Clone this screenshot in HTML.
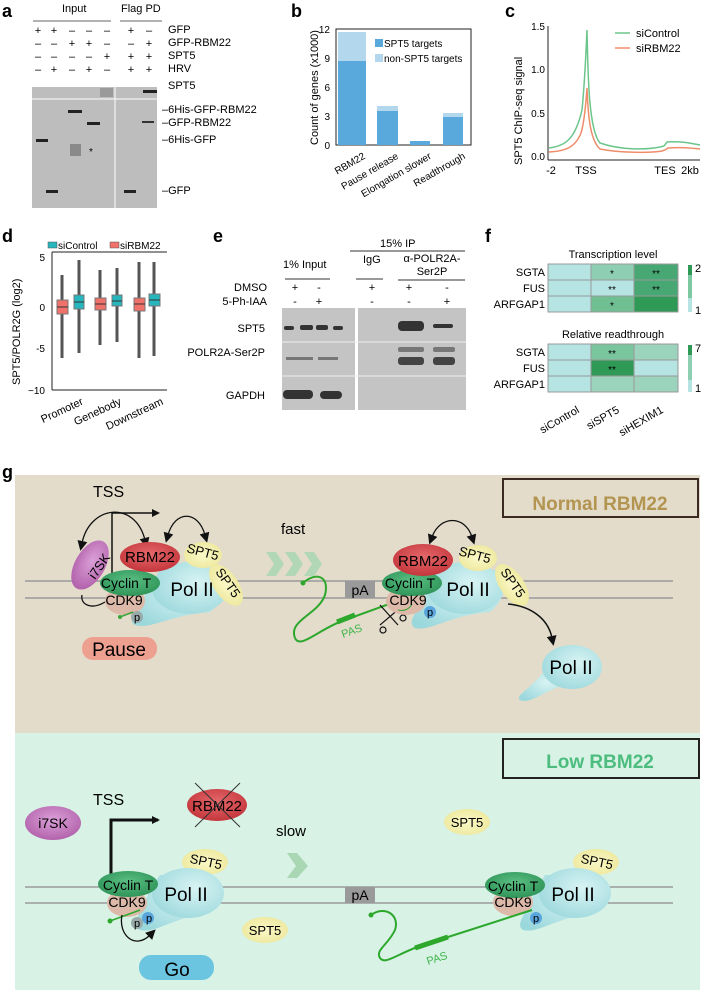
<!DOCTYPE html>
<html><head><meta charset="utf-8"><style>
html,body{margin:0;padding:0;background:#fff}
svg{display:block;font-family:"Liberation Sans",Arial,sans-serif}
</style></head><body>
<svg width="708" height="990" viewBox="0 0 708 990" xmlns="http://www.w3.org/2000/svg">
<defs>
<radialGradient id="pol" cx="0.6" cy="0.4" r="0.7"><stop offset="0" stop-color="#d8f3f3"/><stop offset="1" stop-color="#9bd8dc"/></radialGradient>
<radialGradient id="red" cx="0.5" cy="0.4" r="0.6"><stop offset="0" stop-color="#e4686a"/><stop offset="1" stop-color="#c4363c"/></radialGradient>
<radialGradient id="yel" cx="0.5" cy="0.5" r="0.6"><stop offset="0" stop-color="#fbf8c8"/><stop offset="1" stop-color="#ece79a"/></radialGradient>
<radialGradient id="grn" cx="0.5" cy="0.4" r="0.6"><stop offset="0" stop-color="#5cbf84"/><stop offset="1" stop-color="#2e9458"/></radialGradient>
<radialGradient id="pur" cx="0.5" cy="0.4" r="0.6"><stop offset="0" stop-color="#dba0d8"/><stop offset="1" stop-color="#b262ab"/></radialGradient>
<marker id="ah" markerWidth="8" markerHeight="8" refX="6" refY="4" orient="auto" markerUnits="userSpaceOnUse"><path d="M0,0 L8,4 L0,8 z" fill="#111"/></marker>
<marker id="ahs" markerWidth="10" markerHeight="10" refX="2" refY="5" orient="auto-start-reverse" markerUnits="userSpaceOnUse"><path d="M0,0 L10,5 L0,10 z" fill="#111"/></marker>
</defs>

<g font-weight="bold" font-size="18">
<text x="2" y="17">a</text><text x="291" y="17">b</text><text x="505" y="17">c</text>
<text x="2" y="242">d</text><text x="213" y="242">e</text><text x="485" y="242">f</text>
<text x="2" y="478">g</text>
</g>

<!-- Panel a -->
<g font-size="11">
<text x="62" y="12">Input</text><text x="121" y="12">Flag PD</text>
<line x1="33" y1="21" x2="111" y2="21" stroke="#999" stroke-width="1.5"/>
<line x1="120" y1="21" x2="162" y2="21" stroke="#999" stroke-width="1.5"/>
<g text-anchor="middle" font-size="11">
<text x="38" y="34">+</text><text x="54" y="34">+</text><text x="72" y="34">–</text><text x="89" y="34">–</text><text x="107" y="34">–</text><text x="131" y="34">+</text><text x="149" y="34">–</text>
<text x="38" y="47">–</text><text x="54" y="47">–</text><text x="72" y="47">+</text><text x="89" y="47">+</text><text x="107" y="47">–</text><text x="131" y="47">–</text><text x="149" y="47">+</text>
<text x="38" y="60">–</text><text x="54" y="60">–</text><text x="72" y="60">–</text><text x="89" y="60">–</text><text x="107" y="60">+</text><text x="131" y="60">+</text><text x="149" y="60">+</text>
<text x="38" y="73">–</text><text x="54" y="73">+</text><text x="72" y="73">–</text><text x="89" y="73">+</text><text x="107" y="73">–</text><text x="131" y="73">+</text><text x="149" y="73">+</text>
</g>
<text x="168" y="33">GFP</text><text x="168" y="46">GFP-RBM22</text><text x="168" y="59">SPT5</text><text x="168" y="72">HRV</text>
<rect x="32" y="87" width="125" height="121" fill="#bdbdbd"/>
<line x1="32" y1="99" x2="157" y2="99" stroke="#fff" stroke-width="1"/>
<line x1="115" y1="87" x2="115" y2="208" stroke="#fff" stroke-width="1"/>
<rect x="100" y="88" width="13" height="9" fill="#9a9a9a"/>
<rect x="143" y="90" width="14" height="3" fill="#222"/>
<rect x="68" y="110" width="14" height="3" fill="#222"/>
<rect x="87" y="122" width="13" height="3" fill="#222"/>
<rect x="36" y="139" width="12" height="3" fill="#222"/>
<rect x="70" y="144" width="11" height="12" fill="#8a8a8a"/>
<text x="89" y="155" font-size="10">*</text>
<rect x="46" y="190" width="12" height="3" fill="#222"/>
<rect x="124" y="190" width="12" height="3" fill="#222"/>
<rect x="142" y="121" width="12" height="2" fill="#333"/>
<text x="168" y="89">SPT5</text>
<text x="162" y="113">–6His-GFP-RBM22</text><text x="162" y="126">–GFP-RBM22</text><text x="162" y="143">–6His-GFP</text><text x="162" y="194">–GFP</text>
</g>

<!-- Panel b -->
<g font-size="10">
<text transform="translate(318,145) rotate(-90)" font-size="11">Count of genes (x1000)</text>
<g text-anchor="end"><text x="330" y="33">12</text><text x="330" y="62">9</text><text x="330" y="91">6</text><text x="330" y="120">3</text><text x="330" y="149">0</text></g>
<rect x="336" y="29" width="135" height="116" fill="none" stroke="#222" stroke-width="1"/>
<rect x="338" y="32" width="28" height="113" fill="#b3d8ee"/><rect x="338" y="61" width="28" height="84" fill="#5aa9dc"/>
<rect x="377" y="106" width="21" height="39" fill="#b3d8ee"/><rect x="377" y="111" width="21" height="34" fill="#5aa9dc"/>
<rect x="410" y="141" width="20" height="4" fill="#5aa9dc"/>
<rect x="443" y="113" width="20" height="32" fill="#b3d8ee"/><rect x="443" y="117" width="20" height="28" fill="#5aa9dc"/>
<rect x="375" y="39" width="8" height="8" fill="#5aa9dc"/><text x="384" y="47">SPT5 targets</text>
<rect x="375" y="54" width="8" height="8" fill="#b3d8ee"/><text x="384" y="62">non-SPT5 targets</text>
<text transform="translate(366,158) rotate(-30)" text-anchor="end">RBM22</text>
<text transform="translate(399,158) rotate(-30)" text-anchor="end">Pause release</text>
<text transform="translate(432,158) rotate(-30)" text-anchor="end">Elongation slower</text>
<text transform="translate(466,158) rotate(-30)" text-anchor="end">Readthrough</text>
</g>

<!-- Panel c -->
<g font-size="11">
<text transform="translate(522,165) rotate(-90)">SPT5 ChIP-seq signal</text>
<g text-anchor="end" font-size="10"><text x="545" y="30">1.5</text><text x="545" y="73">1.0</text><text x="545" y="117">0.5</text><text x="545" y="160">0.0</text></g>
<line x1="548" y1="26" x2="548" y2="160" stroke="#222"/><line x1="548" y1="160" x2="700" y2="160" stroke="#222"/>
<g text-anchor="middle"><text x="551" y="174">-2</text><text x="586" y="174">TSS</text><text x="665" y="174">TES</text><text x="690" y="174">2kb</text></g>
<path d="M549,148 C565,146 575,140 582,110 C585,80 586,50 587,30 C588,80 589,130 600,143 C620,150 645,150 660,147 L664,146 L667,142 C680,141 690,143 700,145" fill="none" stroke="#6cc58b" stroke-width="1.5"/>
<path d="M549,152 C565,151 575,148 581,133 C585,120 586,100 587,88 C588,115 590,140 600,149 C620,153 650,153 662,151 L665,150 L668,148 C680,147 690,148 700,149" fill="none" stroke="#ef8d6a" stroke-width="1.5"/>
<line x1="615" y1="33" x2="630" y2="33" stroke="#6cc58b" stroke-width="1.5"/><text x="636" y="37">siControl</text>
<line x1="615" y1="48" x2="630" y2="48" stroke="#ef8d6a" stroke-width="1.5"/><text x="636" y="52">siRBM22</text>
</g>

<!-- Panel d -->
<g font-size="10">
<rect x="48" y="242" width="9" height="6" fill="#27b6bd" stroke="#555" stroke-width=".5"/><text x="58" y="249">siControl</text>
<rect x="110" y="242" width="9" height="6" fill="#f0716a" stroke="#555" stroke-width=".5"/><text x="120" y="249">siRBM22</text>
<text transform="translate(20,385) rotate(-90)" font-size="11">SPT5/POLR2G (log2)</text>
<g text-anchor="end"><text x="45" y="261">5</text><text x="45" y="311">0</text><text x="45" y="352">-5</text><text x="45" y="394">−10</text></g>
<line x1="52" y1="252" x2="52" y2="390" stroke="#222"/><line x1="52" y1="252" x2="167" y2="252" stroke="#222"/><line x1="52" y1="390" x2="167" y2="390" stroke="#222"/>
<g stroke="#555" stroke-width="3">
<line x1="62" y1="275" x2="62" y2="358"/><line x1="79" y1="260" x2="79" y2="353"/>
<line x1="100" y1="270" x2="100" y2="345"/><line x1="117" y1="268" x2="117" y2="342"/>
<line x1="139" y1="262" x2="139" y2="358"/><line x1="154" y1="262" x2="154" y2="356"/>
</g>
<rect x="57" y="300" width="11" height="14" fill="#f0716a" stroke="#777"/><line x1="57" y1="307" x2="68" y2="307" stroke="#333"/>
<rect x="74" y="295" width="10" height="14" fill="#27b6bd" stroke="#777"/><line x1="74" y1="302" x2="84" y2="302" stroke="#333"/>
<rect x="95" y="298" width="11" height="12" fill="#f0716a" stroke="#777"/><line x1="95" y1="304" x2="106" y2="304" stroke="#333"/>
<rect x="112" y="295" width="10" height="11" fill="#27b6bd" stroke="#777"/><line x1="112" y1="301" x2="122" y2="301" stroke="#333"/>
<rect x="134" y="298" width="11" height="13" fill="#f0716a" stroke="#777"/><line x1="134" y1="304" x2="145" y2="304" stroke="#333"/>
<rect x="149" y="294" width="11" height="12" fill="#27b6bd" stroke="#777"/><line x1="149" y1="300" x2="160" y2="300" stroke="#333"/>
<text transform="translate(84,404) rotate(-25)" text-anchor="end" font-size="11">Promoter</text>
<text transform="translate(122,404) rotate(-25)" text-anchor="end" font-size="11">Genebody</text>
<text transform="translate(164,404) rotate(-25)" text-anchor="end" font-size="11">Downstream</text>
</g>

<!-- Panel e -->
<g font-size="11">
<text x="380" y="247">15% IP</text><line x1="350" y1="251" x2="465" y2="251" stroke="#333"/>
<text x="283" y="268">1% Input</text><line x1="285" y1="279" x2="330" y2="279" stroke="#333"/>
<text x="363" y="263">IgG</text><line x1="356" y1="279" x2="383" y2="279" stroke="#333"/>
<text x="432" y="262" text-anchor="middle">α-POLR2A-</text><text x="432" y="275" text-anchor="middle">Ser2P</text><line x1="398" y1="280" x2="465" y2="280" stroke="#333"/>
<text x="267" y="291" text-anchor="end">DMSO</text><text x="267" y="305" text-anchor="end">5-Ph-IAA</text>
<g text-anchor="middle"><text x="295" y="291">+</text><text x="319" y="291">-</text><text x="372" y="291">+</text><text x="409" y="291">+</text><text x="447" y="291">-</text>
<text x="295" y="305">-</text><text x="319" y="305">+</text><text x="372" y="305">-</text><text x="409" y="305">-</text><text x="447" y="305">+</text></g>
<rect x="282" y="308" width="73" height="102" fill="#c4c4c4"/><rect x="358" y="308" width="108" height="102" fill="#c4c4c4"/>
<line x1="282" y1="342" x2="466" y2="342" stroke="#eee"/><line x1="282" y1="376" x2="466" y2="376" stroke="#eee"/>
<g fill="#333"><rect x="284" y="326" width="10" height="4" rx="2"/><rect x="300" y="325" width="13" height="5" rx="2"/><rect x="316" y="325" width="12" height="5" rx="2"/><rect x="333" y="326" width="10" height="4" rx="2"/>
<rect x="398" y="321" width="26" height="10" rx="4"/><rect x="433" y="324" width="20" height="4" rx="2"/>
<rect x="398" y="357" width="26" height="8" rx="3" fill="#444"/><rect x="433" y="357" width="22" height="8" rx="3" fill="#444"/>
<rect x="398" y="347" width="26" height="5" rx="2" fill="#777"/><rect x="433" y="347" width="22" height="5" rx="2" fill="#777"/>
<rect x="286" y="357" width="27" height="3" fill="#777"/><rect x="318" y="357" width="20" height="3" fill="#777"/>
<rect x="283" y="390" width="30" height="9" rx="4"/><rect x="320" y="391" width="22" height="8" rx="4"/></g>
<text x="265" y="332" text-anchor="end">SPT5</text><text x="265" y="356" text-anchor="end">POLR2A-Ser2P</text><text x="265" y="399" text-anchor="end">GAPDH</text>
</g>

<!-- Panel f -->
<g font-size="11">
<text x="613" y="258" text-anchor="middle">Transcription level</text>
<g stroke="#999" stroke-width="1">
<rect x="548" y="264" width="43" height="16" fill="#b5e4e3"/><rect x="591" y="264" width="43" height="16" fill="#8dcfb0"/><rect x="634" y="264" width="44" height="16" fill="#48a873"/>
<rect x="548" y="280" width="43" height="16" fill="#b5e4e3"/><rect x="591" y="280" width="43" height="16" fill="#b5e4e3"/><rect x="634" y="280" width="44" height="16" fill="#48a873"/>
<rect x="548" y="296" width="43" height="16" fill="#b5e4e3"/><rect x="591" y="296" width="43" height="16" fill="#6fbf92"/><rect x="634" y="296" width="44" height="16" fill="#2e9a55"/>
</g>
<g text-anchor="middle" font-size="10"><text x="612" y="277">*</text><text x="656" y="277">**</text><text x="612" y="293">**</text><text x="656" y="293">**</text><text x="612" y="309">*</text></g>
<g text-anchor="end"><text x="545" y="276">SGTA</text><text x="545" y="292">FUS</text><text x="545" y="308">ARFGAP1</text></g>
<rect x="688" y="265" width="4" height="47" fill="#7cc8a0"/><rect x="688" y="298" width="4" height="14" fill="#b5e4e3"/><rect x="688" y="265" width="4" height="10" fill="#2e9a55"/>
<text x="695" y="272">2</text><text x="695" y="314">1</text>
<text x="613" y="338" text-anchor="middle">Relative readthrough</text>
<g stroke="#999" stroke-width="1">
<rect x="548" y="344" width="43" height="16" fill="#b5e4e3"/><rect x="591" y="344" width="43" height="16" fill="#79c59d"/><rect x="634" y="344" width="44" height="16" fill="#9bd3bd"/>
<rect x="548" y="360" width="43" height="16" fill="#b5e4e3"/><rect x="591" y="360" width="43" height="16" fill="#2e9a55"/><rect x="634" y="360" width="44" height="16" fill="#b5e4e3"/>
<rect x="548" y="376" width="43" height="16" fill="#b5e4e3"/><rect x="591" y="376" width="43" height="16" fill="#9bd3bd"/><rect x="634" y="376" width="44" height="16" fill="#9bd3bd"/>
</g>
<g text-anchor="middle" font-size="10"><text x="612" y="357">**</text><text x="612" y="373">**</text></g>
<g text-anchor="end"><text x="545" y="356">SGTA</text><text x="545" y="372">FUS</text><text x="545" y="388">ARFGAP1</text></g>
<rect x="688" y="345" width="4" height="47" fill="#8dcfb0"/><rect x="688" y="345" width="4" height="10" fill="#2e9a55"/><rect x="688" y="380" width="4" height="12" fill="#b5e4e3"/>
<text x="695" y="352">7</text><text x="695" y="392">1</text>
<text transform="translate(580,412) rotate(-30)" text-anchor="end">siControl</text>
<text transform="translate(620,412) rotate(-30)" text-anchor="end">siSPT5</text>
<text transform="translate(664,412) rotate(-30)" text-anchor="end">siHEXIM1</text>
</g>

<!-- Panel g backgrounds -->
<rect x="15" y="475" width="685" height="258" fill="#e3dccb"/>
<rect x="15" y="733" width="685" height="257" fill="#d8f2e6"/>
<rect x="503" y="479" width="195" height="38" fill="none" stroke="#3a2a22" stroke-width="2"/>
<text x="600" y="510" text-anchor="middle" font-size="19" font-weight="bold" fill="#b39450">Normal RBM22</text>
<rect x="503" y="739" width="196" height="39" fill="none" stroke="#222" stroke-width="2"/>
<text x="600" y="768" text-anchor="middle" font-size="19" font-weight="bold" fill="#4cbd7e">Low RBM22</text>

<g stroke="#9a9a9a" stroke-width="1.5">
<line x1="25" y1="581" x2="673" y2="581"/><line x1="25" y1="598" x2="673" y2="598"/>
<line x1="25" y1="887" x2="673" y2="887"/><line x1="25" y1="903" x2="673" y2="903"/>
</g>

<!-- Normal: left complex -->
<text x="93" y="497" font-size="16">TSS</text>
<path d="M112,590 L112,513 L158,513" fill="none" stroke="#111" stroke-width="1.5" marker-end="url(#ah)"/>
<path d="M82,543 C90,505 135,500 145,540" fill="none" stroke="#111" stroke-width="1.3" marker-start="url(#ahs)" marker-end="url(#ahs)"/>
<path d="M168,535 C175,510 198,510 205,535" fill="none" stroke="#111" stroke-width="1.3" marker-start="url(#ahs)" marker-end="url(#ahs)"/>
<path d="M82,595 C80,605 92,610 105,602" fill="none" stroke="#111" stroke-width="1.3"/>
<path d="M150,585 C140,610 125,620 135,625 C150,630 170,615 210,612 C225,600 230,580 215,570 L160,570 z" fill="url(#pol)"/>
<ellipse cx="190" cy="588" rx="38" ry="26" fill="url(#pol)"/>
<ellipse cx="125" cy="601" rx="20" ry="14" fill="#dcb9a8"/>
<ellipse cx="130" cy="583" rx="30" ry="13" fill="url(#grn)"/>
<ellipse cx="90" cy="565" rx="15" ry="27" transform="rotate(30 90 565)" fill="url(#pur)"/>
<ellipse cx="150" cy="557" rx="30" ry="15" fill="url(#red)"/>
<ellipse cx="226" cy="585" rx="12" ry="24" transform="rotate(-35 226 585)" fill="url(#yel)"/>
<ellipse cx="203" cy="555" rx="19" ry="13" fill="url(#yel)"/>
<circle cx="137" cy="617" r="6" fill="#9aa"/>
<path d="M120,617 L133,612" stroke="#3aa53a" stroke-width="1.5"/><circle cx="120" cy="617" r="2" fill="#3aa53a"/>
<g font-size="14">
<text transform="translate(95,580) rotate(-55)" font-size="13">i7SK</text>
<text x="150" y="562" text-anchor="middle" font-size="15">RBM22</text>
<text x="126" y="588" text-anchor="middle" font-size="14">Cyclin T</text>
<text x="192" y="596" text-anchor="middle" font-size="19">Pol II</text>
<text x="124" y="605" text-anchor="middle" font-size="14">CDK9</text>
<text transform="translate(186,552) rotate(15)" font-size="13">SPT5</text>
<text transform="translate(215,572) rotate(55)" font-size="13">SPT5</text>
<text x="137" y="621" text-anchor="middle" font-size="11">p</text>
</g>
<rect x="82" y="637" width="75" height="23" rx="11" fill="#eea090"/>
<text x="119" y="656" text-anchor="middle" font-size="19">Pause</text>
<text x="281" y="534" font-size="15">fast</text>
<g fill="#a9d7b4" opacity="0.85">
<path d="M266,552 L276,552 L284,564 L276,576 L266,576 L274,564 z"/>
<path d="M285,552 L295,552 L303,564 L295,576 L285,576 L293,564 z"/>
<path d="M304,552 L314,552 L322,564 L314,576 L304,576 L312,564 z"/>
</g>

<!-- Normal: right complex -->
<rect x="345" y="581" width="30" height="17" fill="#9a9a9a"/><text x="360" y="595" text-anchor="middle" font-size="14">pA</text>
<path d="M303,583 C315,572 330,575 325,595 C318,615 288,620 295,638 C300,650 320,628 345,620 L392,603" fill="none" stroke="#2da82d" stroke-width="2"/>
<circle cx="303" cy="583" r="2.5" fill="#2da82d"/>
<path d="M337,622 L355,615" stroke="#2da82d" stroke-width="5"/>
<text transform="translate(343,638) rotate(-20)" font-size="11" fill="#3fb54a">PAS</text>
<g stroke="#111" stroke-width="1.2" fill="none"><line x1="380" y1="625" x2="400" y2="608"/><line x1="380" y1="605" x2="398" y2="625"/><circle cx="383" cy="630" r="3"/><circle cx="403" cy="618" r="3"/></g>
<path d="M430,585 C420,610 405,622 415,628 C430,632 450,615 490,612 C505,600 510,580 495,570 L440,570 z" fill="url(#pol)"/>
<ellipse cx="465" cy="588" rx="38" ry="26" fill="url(#pol)"/>
<ellipse cx="406" cy="601" rx="20" ry="14" fill="#dcb9a8"/>
<ellipse cx="412" cy="583" rx="30" ry="13" fill="url(#grn)"/>
<ellipse cx="423" cy="560" rx="30" ry="16" fill="url(#red)"/>
<ellipse cx="478" cy="558" rx="19" ry="13" fill="url(#yel)"/>
<ellipse cx="512" cy="585" rx="12" ry="24" transform="rotate(-35 512 585)" fill="url(#yel)"/>
<circle cx="430" cy="612" r="6" fill="#5aa6dc"/>
<path d="M398,610 C405,612 410,608 412,604" stroke="#3aa53a" fill="none"/>
<text x="423" y="566" text-anchor="middle" font-size="15">RBM22</text>
<text x="410" y="588" text-anchor="middle" font-size="14">Cyclin T</text>
<text x="468" y="596" text-anchor="middle" font-size="19">Pol II</text>
<text x="408" y="605" text-anchor="middle" font-size="14">CDK9</text>
<text transform="translate(458,555) rotate(15)" font-size="13">SPT5</text>
<text transform="translate(500,572) rotate(55)" font-size="13">SPT5</text>
<text x="430" y="616" text-anchor="middle" font-size="11">p</text>
<path d="M432,537 C440,515 465,515 472,537" fill="none" stroke="#111" stroke-width="1.3" marker-start="url(#ahs)" marker-end="url(#ahs)"/>
<path d="M508,604 C530,606 548,618 552,638" fill="none" stroke="#111" stroke-width="1.5" marker-end="url(#ahs)"/>
<path d="M545,670 C530,690 515,695 520,700 C530,705 545,690 565,685 z" fill="url(#pol)"/>
<ellipse cx="572" cy="667" rx="30" ry="22" fill="url(#pol)"/>
<text x="571" y="674" text-anchor="middle" font-size="19">Pol II</text>

<!-- Low panel -->
<ellipse cx="53" cy="823" rx="28" ry="17" fill="url(#pur)"/><text x="53" y="828" text-anchor="middle" font-size="14">i7SK</text>
<text x="93" y="805" font-size="16">TSS</text>
<path d="M111,882 L111,820 L158,820" fill="none" stroke="#111" stroke-width="3" marker-end="url(#ah)"/>
<ellipse cx="217" cy="805" rx="30" ry="16" fill="url(#red)"/>
<text x="217" y="811" text-anchor="middle" font-size="15">RBM22</text>
<g stroke="#333" stroke-width="1"><line x1="195" y1="783" x2="240" y2="827"/><line x1="240" y1="783" x2="195" y2="827"/></g>
<text x="276" y="836" font-size="15">slow</text>
<path d="M287,853 L297,853 L308,866 L297,878 L287,878 L296,866 z" fill="#a9d7b4"/>
<ellipse cx="205" cy="862" rx="23" ry="13" fill="url(#yel)"/><text transform="translate(205,866) rotate(12)" text-anchor="middle" font-size="13">SPT5</text>
<ellipse cx="265" cy="930" rx="23" ry="13" fill="url(#yel)"/><text x="265" y="935" text-anchor="middle" font-size="13">SPT5</text>
<ellipse cx="467" cy="822" rx="23" ry="13" fill="url(#yel)"/><text x="467" y="827" text-anchor="middle" font-size="13">SPT5</text>
<ellipse cx="596" cy="862" rx="23" ry="13" fill="url(#yel)"/><text transform="translate(596,866) rotate(12)" text-anchor="middle" font-size="13">SPT5</text>
<path d="M150,890 C140,915 130,925 140,930 C155,934 172,918 205,914 C220,905 222,885 210,875 L160,875 z" fill="url(#pol)"/>
<ellipse cx="188" cy="893" rx="36" ry="25" fill="url(#pol)"/>
<ellipse cx="127" cy="903" rx="20" ry="14" fill="#dcb9a8"/>
<ellipse cx="128" cy="884" rx="30" ry="13" fill="url(#grn)"/>
<circle cx="137" cy="923" r="6" fill="#9aa"/><circle cx="148" cy="918" r="6" fill="#5aa6dc"/>
<path d="M110,921 L140,910" stroke="#2da82d" stroke-width="1.5"/><circle cx="110" cy="921" r="2.5" fill="#2da82d"/>
<text x="128" y="890" text-anchor="middle" font-size="14">Cyclin T</text>
<text x="186" y="901" text-anchor="middle" font-size="19">Pol II</text>
<text x="127" y="907" text-anchor="middle" font-size="14">CDK9</text>
<text x="137" y="927" text-anchor="middle" font-size="11">p</text><text x="149" y="922" text-anchor="middle" font-size="11">p</text>
<path d="M122,915 C118,935 135,950 150,935" fill="none" stroke="#111" stroke-width="1.3" marker-end="url(#ahs)"/>
<rect x="139" y="955" width="75" height="25" rx="12" fill="#6cc5e0"/>
<text x="177" y="976" text-anchor="middle" font-size="19">Go</text>
<rect x="345" y="887" width="30" height="16" fill="#9a9a9a"/><text x="360" y="900" text-anchor="middle" font-size="14">pA</text>
<path d="M535,892 C525,915 515,925 523,930 C538,934 555,918 590,914 C605,905 607,885 595,875 L545,875 z" fill="url(#pol)"/>
<ellipse cx="575" cy="893" rx="36" ry="25" fill="url(#pol)"/>
<ellipse cx="513" cy="902" rx="20" ry="14" fill="#dcb9a8"/>
<ellipse cx="515" cy="885" rx="30" ry="13" fill="url(#grn)"/>
<circle cx="536" cy="918" r="6" fill="#5aa6dc"/>
<path d="M371,915 C385,905 400,915 395,930 C388,945 375,950 380,958 C385,965 395,955 420,946 L532,910" fill="none" stroke="#2da82d" stroke-width="2"/>
<circle cx="371" cy="915" r="2.5" fill="#2da82d"/>
<path d="M415,948 L448,937" stroke="#2da82d" stroke-width="5"/>
<text transform="translate(428,965) rotate(-18)" font-size="11" fill="#3fb54a">PAS</text>
<text x="513" y="891" text-anchor="middle" font-size="14">Cyclin T</text>
<text x="573" y="901" text-anchor="middle" font-size="19">Pol II</text>
<text x="513" y="907" text-anchor="middle" font-size="14">CDK9</text>
<text x="536" y="922" text-anchor="middle" font-size="11">p</text>
</svg>
</body></html>
